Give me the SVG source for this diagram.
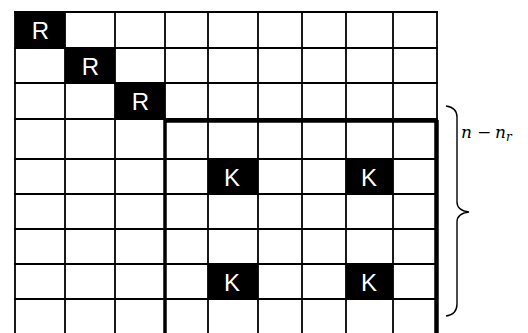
<svg xmlns="http://www.w3.org/2000/svg" width="528" height="333" viewBox="0 0 528 333">
<style>
.cell{fill:#000}
.grid line{stroke:#000;stroke-width:1.8}
.thick{stroke:#000;fill:none}
.lbl{fill:#fff;font-family:"Liberation Sans",Arial,sans-serif;font-size:24px;text-anchor:middle}
.math{font-family:"DejaVu Serif","Liberation Serif",serif;font-style:italic;fill:#000}
</style>
<rect width="528" height="333" fill="#fff"/>
<g id="cells">
<g id="r1"><rect class="cell" x="15" y="12" width="50" height="36"/><text class="lbl" x="40.5" y="39">R</text></g>
<g id="r2"><rect class="cell" x="65" y="48" width="50" height="35"/><text class="lbl" x="90.5" y="74.5">R</text></g>
<g id="r3"><rect class="cell" x="115" y="83" width="50" height="36"/><text class="lbl" x="140.5" y="110">R</text></g>
<g id="k1"><rect class="cell" x="208" y="159" width="50" height="35"/><text class="lbl" x="232" y="186">K</text></g>
<g id="k2"><rect class="cell" x="346" y="159" width="47" height="35"/><text class="lbl" x="369" y="186">K</text></g>
<g id="k3"><rect class="cell" x="208" y="264" width="50" height="35"/><text class="lbl" x="232" y="291">K</text></g>
<g id="k4"><rect class="cell" x="346" y="264" width="47" height="35"/><text class="lbl" x="369" y="291">K</text></g>
</g>
<g id="grid" class="grid">
<line x1="15" y1="11" x2="15" y2="333"/>
<line x1="65" y1="11" x2="65" y2="333"/>
<line x1="115" y1="11" x2="115" y2="333"/>
<line x1="165" y1="11" x2="165" y2="333"/>
<line x1="208" y1="11" x2="208" y2="333"/>
<line x1="258" y1="11" x2="258" y2="333"/>
<line x1="302" y1="11" x2="302" y2="333"/>
<line x1="346" y1="11" x2="346" y2="333"/>
<line x1="393" y1="11" x2="393" y2="333"/>
<line x1="437" y1="11" x2="437" y2="333"/>
<line x1="14" y1="12" x2="438" y2="12"/>
<line x1="14" y1="48" x2="438" y2="48"/>
<line x1="14" y1="83" x2="438" y2="83"/>
<line x1="14" y1="119" x2="438" y2="119"/>
<line x1="14" y1="159" x2="438" y2="159"/>
<line x1="14" y1="194" x2="438" y2="194"/>
<line x1="14" y1="229" x2="438" y2="229"/>
<line x1="14" y1="264" x2="438" y2="264"/>
<line x1="14" y1="299" x2="438" y2="299"/>
</g>
<g id="box">
<line class="thick" x1="165" y1="120" x2="165" y2="333" stroke-width="3.5"/>
<line class="thick" x1="165" y1="121.3" x2="437" y2="121.3" stroke-width="3"/>
<line class="thick" x1="436.5" y1="120" x2="436.5" y2="333" stroke-width="4.5"/>
</g>
<g id="brace">
<path class="thick" stroke-width="1.4" d="M446,106 C453,107 457,110 457,117 L457,202 C457,208 461,211 469,212 C461,213 457,216 457,222 L457,304 C457,311 453,315 446,316"/>
<text class="math" font-size="17" y="138"><tspan x="461">n</tspan><tspan x="477" font-style="normal">−</tspan><tspan x="495">n</tspan><tspan x="506" y="141" font-size="12">r</tspan></text>
</g>
</svg>
